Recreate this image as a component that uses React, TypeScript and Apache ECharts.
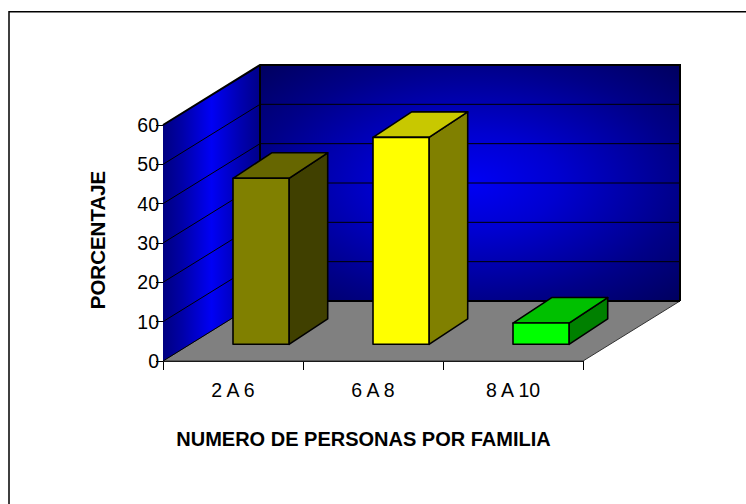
import React, { useEffect, useRef } from "react";
import * as echarts from "echarts";

const categories = ["2 A 6", "6 A 8", "8 A 10"];
const porcentaje = [42.2, 52.6, 5.4];
const yTicks = [0, 10, 20, 30, 40, 50, 60];
const frontColors = ["#808000", "#ffff00", "#00ff00"];
const topColors = ["#666600", "#c8c800", "#00c000"];
const sideColors = ["#404000", "#808000", "#008000"];

const DX = 97;
const DY = -60;

export default function App() {
  const ref = useRef<HTMLDivElement>(null);
  useEffect(() => {
    const chart = echarts.init(ref.current!, undefined, { renderer: "svg" });
    chart.setOption({
      animation: false,
      grid: { left: 163, top: 125, width: 420, height: 236 },
      xAxis: {
        type: "category",
        data: categories,
        name: "NUMERO DE PERSONAS POR FAMILIA",
        nameLocation: "middle",
        nameGap: 68,
        nameTextStyle: {
          fontFamily: "Liberation Sans",
          fontWeight: "bold",
          fontSize: 20,
          color: "#000",
          padding: [0, 19, 0, 0],
        },
        axisLine: { show: true, lineStyle: { color: "#000" } },
        axisTick: { show: true, length: 9, lineStyle: { color: "#000" } },
        axisLabel: { fontFamily: "Liberation Sans", fontSize: 19.5, color: "#000", margin: 19 },
        splitLine: { show: false },
      },
      yAxis: {
        type: "value",
        min: 0,
        max: 60,
        interval: 10,
        name: "PORCENTAJE",
        nameLocation: "middle",
        nameGap: 55,
        nameRotate: 90,
        nameTextStyle: {
          fontFamily: "Liberation Sans",
          fontWeight: "bold",
          fontSize: 20.5,
          color: "#000",
          padding: [0, 0, 0, 6],
        },
        axisLine: { show: true, lineStyle: { color: "#000" } },
        axisTick: { show: true, length: 7, lineStyle: { color: "#000" } },
        axisLabel: { fontFamily: "Liberation Sans", fontSize: 19.5, color: "#000", margin: 4 },
        splitLine: { show: false },
      },
      graphic: [
        {
          type: "polyline",
          silent: true,
          z: -1,
          shape: { points: [[9, 504], [9, 11.8], [746, 11.8]] },
          style: { fill: "none", stroke: "#000", lineWidth: 1.5 },
        },
      ],
      series: [
        {
          type: "custom",
          coordinateSystem: "cartesian2d",
          silent: true,
          z: 1,
          data: [[0, 0]],
          clip: false,
          renderItem: (_p: any, api: any) => {
            const size = api.size([1, 0]);
            const c0 = api.coord([0, 0]);
            const x0 = c0[0] - size[0] / 2;
            const y0 = c0[1];
            const y60 = api.coord([0, 60])[1];
            const x1 = x0 + size[0] * categories.length;
            const children: any[] = [
              {
                type: "polygon",
                shape: { points: [[x0, y0], [x1, y0], [x1 + DX, y0 + DY], [x0 + DX, y0 + DY]] },
                style: { fill: "#808080", stroke: "#333", lineWidth: 1 },
              },
              {
                type: "polygon",
                shape: { points: [[x0 + DX, y60 + DY], [x1 + DX, y60 + DY], [x1 + DX, y0 + DY], [x0 + DX, y0 + DY]] },
                style: {
                  fill: {
                    type: "radial", x: 0.5, y: 0.5, r: 0.7,
                    colorStops: [
                      { offset: 0, color: "#0000f5" },
                      { offset: 0.3, color: "#0000d0" },
                      { offset: 0.72, color: "#000088" },
                      { offset: 1, color: "#000060" },
                    ],
                  },
                },
              },
              {
                type: "polygon",
                shape: { points: [[x0, y60], [x0 + DX, y60 + DY], [x0 + DX, y0 + DY], [x0, y0]] },
                style: {
                  fill: {
                    type: "linear", x: 0, y: 0, x2: 1, y2: 0,
                    colorStops: [
                      { offset: 0, color: "#000080" },
                      { offset: 0.2, color: "#0000a8" },
                      { offset: 0.5, color: "#0000f5" },
                      { offset: 0.8, color: "#0000b0" },
                      { offset: 1, color: "#000088" },
                    ],
                  },
                },
              },
            ];
            yTicks.slice(1, -1).forEach((t) => {
              const y = api.coord([0, t])[1];
              children.push({
                type: "polyline",
                shape: { points: [[x0, y], [x0 + DX, y + DY], [x1 + DX, y + DY]] },
                style: { stroke: "#000", lineWidth: 1, fill: "none" },
              });
            });
            children.push({
              type: "polyline",
              shape: { points: [[x0, y60], [x0 + DX, y60 + DY], [x1 + DX, y60 + DY], [x1 + DX, y0 + DY]] },
              style: { stroke: "#000", lineWidth: 2, fill: "none" },
            });
            children.push({
              type: "line",
              shape: { x1: x0 + DX, y1: y60 + DY, x2: x0 + DX, y2: y0 + DY },
              style: { stroke: "#000", lineWidth: 2 },
            });
            children.push({
              type: "line",
              shape: { x1: x0 + DX, y1: y0 + DY, x2: x1 + DX, y2: y0 + DY },
              style: { stroke: "#000", lineWidth: 2 },
            });
            children.push({
              type: "line",
              shape: { x1: x0, y1: y0, x2: x0 + DX, y2: y0 + DY },
              style: { stroke: "#000", lineWidth: 1 },
            });
            return { type: "group", children };
          },
        },
        {
          type: "custom",
          coordinateSystem: "cartesian2d",
          silent: true,
          z: 2,
          clip: false,
          data: porcentaje.map((v, i) => [i, v]),
          renderItem: (p: any, api: any) => {
            const i = p.dataIndex;
            const top = api.coord([api.value(0), api.value(1)]);
            const base = api.coord([api.value(0), 0]);
            const w = 56;
            const ox = 28;
            const oy = -16.7;
            const dx = 38.7;
            const dy = -25.5;
            const l = top[0] + ox - w / 2;
            const r = l + w;
            const t = top[1] + oy;
            const b = base[1] + oy;
            const s = { stroke: "#000", lineWidth: 1.6, lineJoin: "round" };
            return {
              type: "group",
              children: [
                { type: "polygon", shape: { points: [[r, t], [r + dx, t + dy], [r + dx, b + dy], [r, b]] }, style: { fill: sideColors[i], ...s } },
                { type: "polygon", shape: { points: [[l, t], [l + dx, t + dy], [r + dx, t + dy], [r, t]] }, style: { fill: topColors[i], ...s } },
                { type: "rect", shape: { x: l, y: t, width: w, height: b - t }, style: { fill: frontColors[i], ...s } },
              ],
            };
          },
        },
      ],
    });
    return () => chart.dispose();
  }, []);
  return (
    <div
      ref={ref}
      style={{ position: "absolute", left: 0, top: 0, width: 746, height: 504, background: "#fff" }}
    />
  );
}
